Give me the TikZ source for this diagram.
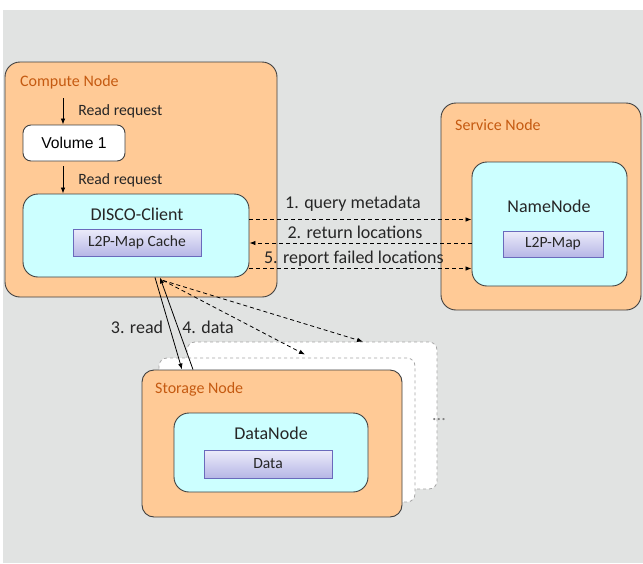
\documentclass[tikz,border=0pt]{standalone}
\usepackage{fontspec}
\setmainfont{Carlito}
\newfontfamily\arialfont{Liberation Sans}
\usetikzlibrary{arrows.meta,shadows}
\definecolor{bggray}{HTML}{E1E3E2}
\definecolor{orangefill}{HTML}{FFCA96}
\definecolor{cyanfill}{HTML}{CCFFFF}
\definecolor{titlecol}{HTML}{C55A11}
\definecolor{edgecol}{HTML}{404040}
\definecolor{lavtop}{HTML}{ECECFA}
\definecolor{lavbot}{HTML}{B6B6E6}
\definecolor{lavedge}{HTML}{6A6ABC}
\definecolor{textcol}{HTML}{262626}
\tikzset{
  hostbox/.style={draw=edgecol, line width=0.9pt, fill=orangefill, rounded corners=15pt, inner sep=0pt},
  procbox/.style={draw=edgecol, line width=0.9pt, fill=cyanfill, rounded corners=15pt, inner sep=0pt},
  volbox/.style={draw=edgecol, line width=0.9pt, fill=white, rounded corners=8pt, inner sep=0pt, font=\arialfont\fontsize{15.7}{18}\selectfont, text=black},
  mapbox/.style={draw=lavedge, line width=0.9pt, top color=lavtop, bottom color=lavbot, inner sep=0pt, font=\fontsize{15.6}{18}\selectfont, text=textcol},
  ghostbox/.style={draw=gray!70, dashed, line width=0.8pt, fill=white, rounded corners=8pt, inner sep=0pt},
  titletext/.style={anchor=west, text=titlecol, font=\fontsize{16}{18}\selectfont, inner sep=0pt},
  proctext/.style={text=textcol, font=\fontsize{18}{21}\selectfont, inner sep=0pt},
  lbl/.style={text=textcol, font=\fontsize{18}{21}\selectfont, inner sep=0pt},
  smalllbl/.style={text=textcol, font=\fontsize{15.7}{18}\selectfont, inner sep=0pt},
  flow/.style={draw=black, line width=0.8pt, -{Latex[length=6pt,width=4.5pt]}},
  dflow/.style={draw=black, line width=0.8pt, dash pattern=on 4pt off 3pt, -{Latex[length=6pt,width=4.5pt]}}
}
\begin{document}
\begin{tikzpicture}[x=1pt,y=-1pt]
\useasboundingbox (0,0) rectangle (643,563);
\fill[bggray] (3,10) rectangle (643,563);

% Compute node
\node[hostbox, minimum width=272pt, minimum height=235pt] (compute) at (141,179.5) {};
\node[titletext] (ctitle) at (20,82) {Compute Node};
\node[volbox, minimum width=102pt, minimum height=36pt] (vol) at (74,143) {Volume 1};
\node[procbox, minimum width=226pt, minimum height=83pt] (disco) at (136,235.5) {};
\node[proctext] (discot) at (137,214) {DISCO-Client};
\node[mapbox, minimum width=128pt, minimum height=27pt] (cache) at (137,242.5) {L2P-Map Cache};
\coordinate (rqtop) at (63,98);
\draw[flow] (rqtop) -- (rqtop |- vol.north) node[smalllbl, midway, anchor=west, xshift=15pt] (rq1) {Read request};
\draw[flow] (rqtop |- vol.south) ++(0,5) coordinate (rqmid) -- (rqmid |- disco.north) node[smalllbl, midway, anchor=west, xshift=15pt] (rq2) {Read request};

% Service node
\node[hostbox, minimum width=200pt, minimum height=207pt] (service) at (541,206.5) {};
\node[titletext] (stitle) at (455,125) {Service Node};
\node[procbox, minimum width=155pt, minimum height=124pt] (namenode) at (549.5,224) {};
\node[proctext] (namet) at (549,206) {NameNode};
\node[mapbox, minimum width=100pt, minimum height=26pt] (l2p) at (553,244) {L2P-Map};

% Metadata flows
\draw[dflow] ([yshift=16pt]disco.east) -- ([yshift=16pt]disco.east -| namenode.west)
  node[lbl, pos=0.466, yshift=16pt] (m1) {1. query metadata};
\draw[dflow] ([yshift=-7.5pt]disco.east -| namenode.west) -- ([yshift=-7.5pt]disco.east)
  node[lbl, pos=0.525, yshift=11pt] (m2) {2. return locations};
\draw[dflow] ([yshift=-33pt]disco.east) -- ([yshift=-33pt]disco.east -| namenode.west)
  node[lbl, pos=0.47, yshift=10pt] (m5) {5. report failed locations};

% Storage stack
\node[ghostbox, minimum width=250pt, minimum height=147pt] (back) at (312,415.5) {};
\node[ghostbox, minimum width=256pt, minimum height=144pt] (mid) at (287,430) {};
\node[hostbox, rounded corners=12pt, minimum width=260pt, minimum height=147pt] (storage) at (272,443.5) {};
\node[titletext] (sttitle) at (155,389) {Storage Node};
\node[procbox, minimum width=194pt, minimum height=79pt] (datanode) at (271,452.5) {};
\node[proctext] (datat) at (271,433) {DataNode};
\node[mapbox, minimum width=128pt, minimum height=28pt] (data) at (268,464) {Data};
\node[text=gray, font=\fontsize{18}{20}\selectfont, inner sep=0pt] (dots) at (439,420) {...};

% Data flows
\draw[flow] ([xshift=19pt]disco.south) -- ([xshift=-90pt]storage.north);
\draw[flow] ([xshift=-79pt]storage.north) -- ([xshift=24pt]disco.south);
\node[lbl] (r3) at (137,327) {3. read};
\node[lbl] (r4) at (208,327) {4. data};
\draw[dflow] ([xshift=27pt,yshift=-3pt]disco.south) -- ([xshift=18pt,yshift=3pt]mid.north);
\draw[dflow] ([xshift=27pt,yshift=-3pt]disco.south) -- ([xshift=51pt]back.north);
\end{tikzpicture}
\end{document}
